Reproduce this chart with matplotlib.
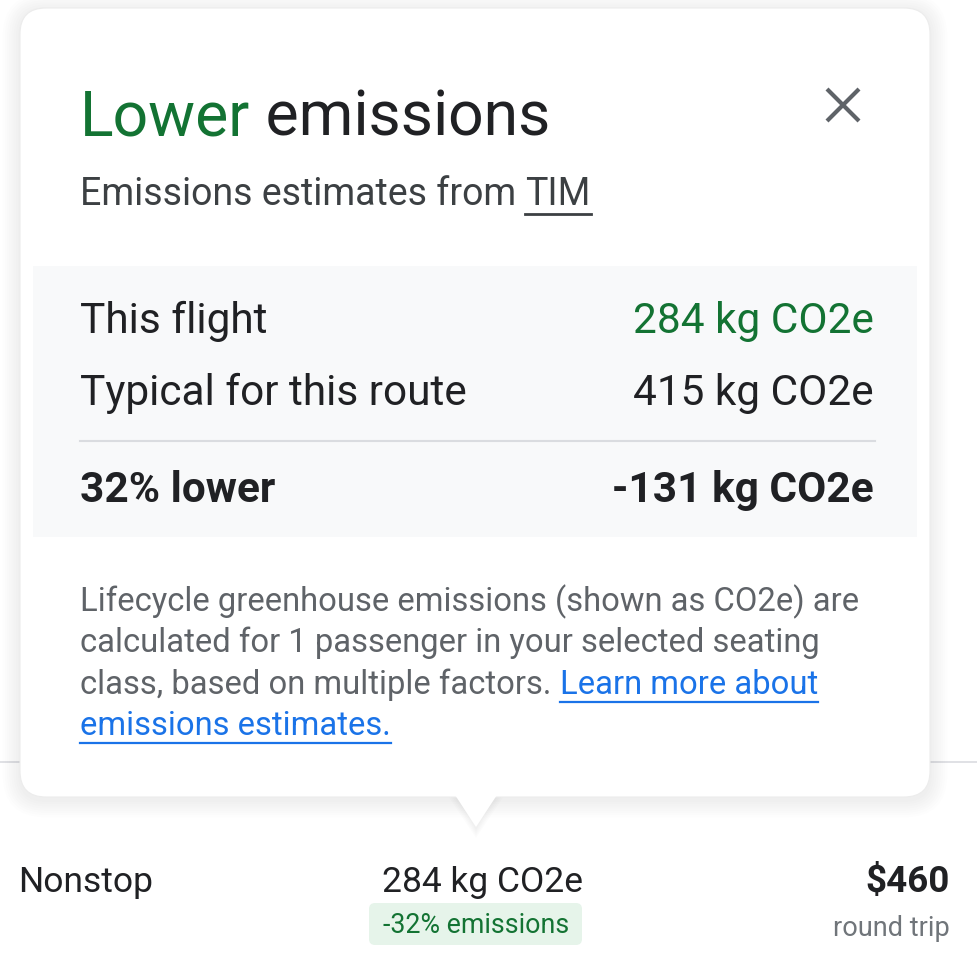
import matplotlib.pyplot as plt
from matplotlib.patches import FancyBboxPatch, Rectangle, Polygon

plt.rcParams['font.family'] = ['Roboto', 'DejaVu Sans']

# content
title_parts = ["Lower", " emissions"]
subtitle = "Emissions estimates from "
source = "TIM"
row_labels = ["This flight", "Typical for this route", "32% lower"]
row_values = ["284 kg CO2e", "415 kg CO2e", "-131 kg CO2e"]
note_lines = [
    "Lifecycle greenhouse emissions (shown as CO2e) are",
    "calculated for 1 passenger in your selected seating",
    "class, based on multiple factors. ",
]
link_parts = ["Learn more about", "emissions estimates."]
stops = "Nonstop"
flight_co2 = "284 kg CO2e"
badge = "-32% emissions"
price = "$460"
price_note = "round trip"

GREEN = "#137333"
DARK = "#202124"
GREY = "#5f6368"
BLUE = "#1a73e8"

fig = plt.figure(figsize=(9.77, 9.77), dpi=100)
ax = fig.add_axes([0, 0, 1, 1])
ax.set_xlim(0, 977)
ax.set_ylim(977, 0)
ax.axis("off")
fig.patch.set_facecolor("white")

# page divider behind the card
ax.plot([0, 977], [762, 762], color="#dadce0", lw=1.2, zorder=0)

# soft shadow
for i in range(8):
    pad = 2 + i * 2.2
    ax.add_patch(FancyBboxPatch((20 - pad, 8 - pad + 3), 910 + 2 * pad, 789 + 2 * pad,
                                boxstyle="round,pad=0,rounding_size=%d" % (26 + pad),
                                fc="black", ec="none", alpha=0.009, zorder=1))
for i in range(5):
    pad = i * 2.0
    ax.add_patch(Polygon([(452 - pad, 790), (500 + pad, 790), (476, 830 + pad)],
                         closed=True, fc="black", ec="none", alpha=0.012, zorder=1))

# card
ax.add_patch(FancyBboxPatch((20, 8), 910, 789, boxstyle="round,pad=0,rounding_size=26",
                            fc="white", ec="#ececec", lw=0.8, zorder=2))
ax.add_patch(Polygon([(455, 795), (497, 795), (476, 827)], closed=True,
                     fc="white", ec="none", zorder=2))

fig.canvas.draw()
renderer = fig.canvas.get_renderer()


def width(t):
    return t.get_window_extent(renderer).width


def put_seq(x, y, parts, colors, size, weight="normal"):
    xs = []
    for p, c in zip(parts, colors):
        t = ax.text(x, y, p, fontsize=size, color=c, weight=weight, va="baseline",
                    ha="left", zorder=5)
        w = width(t)
        xs.append((x, x + w))
        x += w
    return xs


# header
put_seq(80, 135, title_parts, [GREEN, DARK], 45)
ax.plot([843 - 16, 843 + 16], [89, 121], color=GREY, lw=3, solid_capstyle="butt", zorder=5)
ax.plot([843 - 16, 843 + 16], [121, 89], color=GREY, lw=3, solid_capstyle="butt", zorder=5)

spans = put_seq(80, 205, [subtitle, source], ["#3c4043", "#3c4043"], 27)
ax.plot(spans[1], [214, 214], color="#3c4043", lw=2, zorder=5)

# comparison panel
ax.add_patch(Rectangle((33, 266), 884, 271, fc="#f8f9fa", ec="none", zorder=3))
row_y = [333, 405, 502]
value_colors = [GREEN, DARK, DARK]
for i, (lab, val) in enumerate(zip(row_labels, row_values)):
    w = "bold" if i == 2 else "normal"
    ax.text(80, row_y[i], lab, fontsize=30.5, color=DARK, weight=w, va="baseline", zorder=5)
    ax.text(874, row_y[i], val, fontsize=30.5, color=value_colors[i], weight=w,
            va="baseline", ha="right", zorder=5)
ax.plot([80, 875], [441, 441], color="#dadce0", lw=1.5, zorder=5)

# footnote
note_y = [611, 652, 694, 735]
fs = 23.6
for i, line in enumerate(note_lines):
    spans = put_seq(80, note_y[i], [line], [GREY], fs)
end = spans[0][1]
s1 = put_seq(end, note_y[2], [link_parts[0]], [BLUE], fs)
ax.plot(s1[0], [note_y[2] + 8, note_y[2] + 8], color=BLUE, lw=1.6, zorder=5)
s2 = put_seq(80, note_y[3], [link_parts[1]], [BLUE], fs)
ax.plot(s2[0], [note_y[3] + 8, note_y[3] + 8], color=BLUE, lw=1.6, zorder=5)

# flight row
ax.text(18, 892, stops, fontsize=25.5, color=DARK, va="baseline", zorder=5)
ax.text(482, 892, flight_co2, fontsize=25.5, color=DARK, va="baseline", ha="center", zorder=5)
ax.add_patch(FancyBboxPatch((369, 903), 213, 42, boxstyle="round,pad=0,rounding_size=6",
                            fc="#e6f4ea", ec="none", zorder=4))
ax.text(476, 933, badge, fontsize=19.3, color=GREEN, va="baseline", ha="center", zorder=5)
ax.text(950, 892, price, fontsize=26.5, color=DARK, weight="bold", va="baseline",
        ha="right", zorder=5)
ax.text(950, 936, price_note, fontsize=19.5, color="#70757a", va="baseline",
        ha="right", zorder=5)

fig.savefig("out.png", dpi=100, facecolor="white")
